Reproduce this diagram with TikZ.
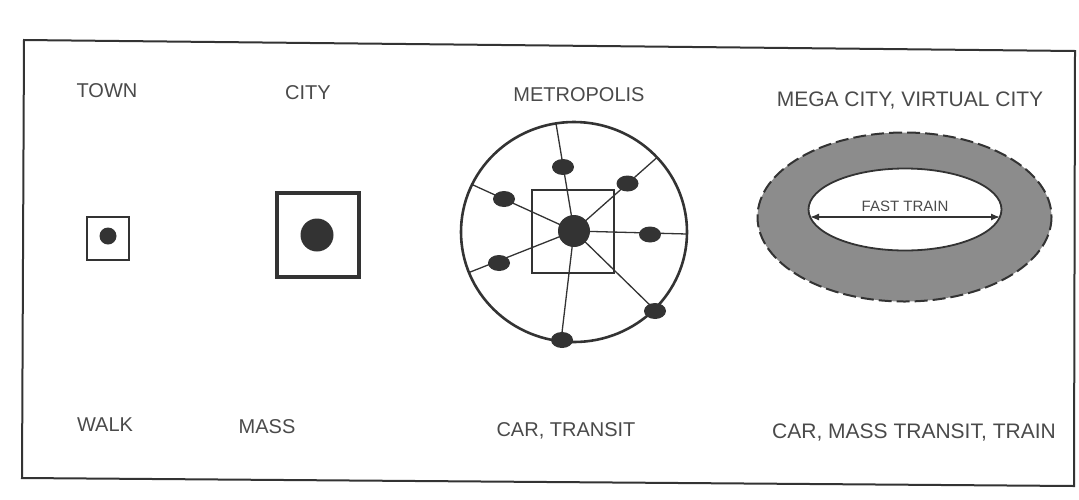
\documentclass[tikz,border=0pt]{standalone}
\usepackage{fontspec}
\setmainfont{Liberation Sans}
\usetikzlibrary{arrows.meta}
\definecolor{txtgray}{HTML}{4A4A4A}
\definecolor{ink}{HTML}{333333}
\definecolor{ringgray}{HTML}{8C8C8C}
\tikzset{
  lab/.style={font=\fontsize{20}{24}\selectfont, text=txtgray, inner sep=0pt, anchor=center},
  widelab/.style={font=\fontsize{21}{25}\selectfont, text=txtgray, inner sep=0pt, anchor=center},
  smalllab/.style={font=\fontsize{15}{17}\selectfont, text=txtgray, inner sep=0pt, anchor=center},
  framebox/.style={draw=ink, line width=2pt},
  bigdot/.style={circle, fill=ink, inner sep=0pt},
  satdot/.style={ellipse, fill=ink, inner sep=0pt, minimum width=22pt, minimum height=16pt},
  spoke/.style={draw=ink, line width=1.3pt},
}
\usetikzlibrary{shapes.geometric}
\begin{document}
\begin{tikzpicture}[x=1pt,y=-1pt]
\useasboundingbox (0,0) rectangle (1079,499);
% outer frame
\draw[framebox, line join=miter] (24,40) -- (1075,51) -- (1074,486) -- (22,478) -- cycle;

% titles
\node[lab] (tTown)  at (107,91)  {TOWN};
\node[lab] (tCity)  at (308,93)  {CITY};
\node[lab] (tMetro) at (579,95)  {METROPOLIS};
\node[widelab] (tMega)  at (910,101) {MEGA CITY, VIRTUAL CITY};

% bottom labels
\node[lab] (bWalk)  at (105,425) {WALK};
\node[lab] (bMass)  at (267,427) {MASS};
\node[lab] (bCar)   at (566,431) {CAR, TRANSIT};
\node[widelab] (bTrain) at (914,433) {CAR, MASS TRANSIT, TRAIN};

% town
\draw[draw=ink, line width=2pt] (87,217) rectangle (129,260);
\node[bigdot, minimum size=17pt] (townDot) at (108,236) {};

% city
\draw[draw=ink, line width=3.6pt] (277,193) rectangle (359,277);
\node[bigdot, minimum size=33pt] (cityDot) at (317,235) {};

% metropolis
\draw[draw=ink, line width=2.6pt] (574,232) ellipse [x radius=113, y radius=110];
\draw[draw=ink, line width=1.8pt] (532,190) rectangle (614,273);
\coordinate (e1) at (556,123.5);
\coordinate (e2) at (657,157.5);
\coordinate (e3) at (472,184.5);
\coordinate (e4) at (687,234);
\coordinate (e5) at (469,272.5);
\coordinate (e6) at (655,310);
\coordinate (e7) at (561,341);
\coordinate (hubc) at (574,231);
\foreach \e in {e1,e2,e3,e4,e5,e6,e7} { \draw[spoke] (hubc) -- (\e); }
\node[satdot] (s1) at (563,167) {};
\node[satdot] (s2) at (627.5,183.5) {};
\node[satdot] (s3) at (504,199) {};
\node[satdot] (s4) at (650,234.5) {};
\node[satdot] (s5) at (499,263) {};
\node[satdot] (s6) at (655,311) {};
\node[satdot] (s7) at (562,340) {};
\node[bigdot, minimum size=32pt] (hub) at (hubc) {};

% mega city ring
\fill[ringgray, even odd rule] (904.5,217) ellipse [x radius=147, y radius=84.5]
      (905,209.5) ellipse [x radius=96.5, y radius=41];
\draw[draw=ink, line width=2pt, dash pattern=on 13pt off 5pt] (904.5,217) ellipse [x radius=147, y radius=84.5];
\draw[draw=ink, line width=1.8pt] (905,209.5) ellipse [x radius=96.5, y radius=41];
\coordinate (fl) at (810,217);
\coordinate (fr) at (1000,217);
\draw[draw=ink, line width=1.3pt, {Latex[length=9pt,width=7pt]}-{Latex[length=9pt,width=7pt]}] (fl) -- (fr);
\node[smalllab] (fast) at (905,206) {FAST TRAIN};
\end{tikzpicture}
\end{document}
